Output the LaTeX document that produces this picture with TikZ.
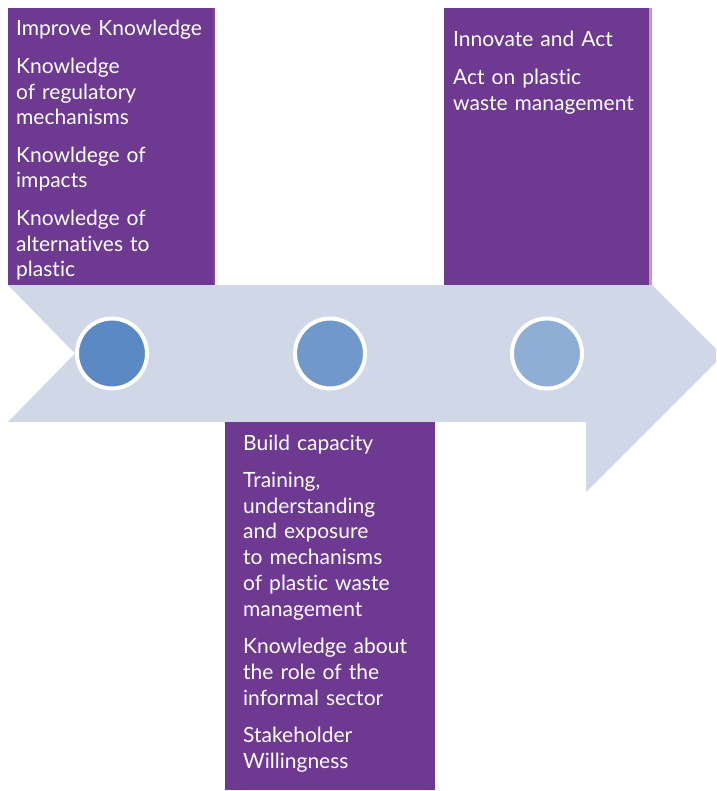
\documentclass[tikz,border=0pt]{standalone}
\usepackage{fontspec}
\setmainfont{Lato}[Ligatures=NoCommon]
\usepackage{tikz}
\usetikzlibrary{positioning}
\definecolor{stagepurple}{RGB}{110,57,145}
\definecolor{stripdark}{RGB}{126,69,168}
\definecolor{striplight}{RGB}{184,155,210}
\definecolor{bandgrey}{RGB}{208,215,230}
\definecolor{dotone}{RGB}{91,137,195}
\definecolor{dottwo}{RGB}{113,152,203}
\definecolor{dotthree}{RGB}{143,174,214}

\begin{document}
\begin{tikzpicture}[line cap=round,line join=round,x=1pt,y=-1pt]
\useasboundingbox (0,0) rectangle (716,791);
\tikzstyle{stagebox}=[fill=stagepurple, draw=none, anchor=north west, inner sep=0pt, minimum width=205pt]
\tikzstyle{stagetext}=[text=white, anchor=base west, inner sep=0pt, text width=200pt, align=left, font=\fontsize{21}{25.8}\selectfont]
\tikzstyle{stagedot}=[circle, draw=white, line width=4pt, minimum size=70pt, inner sep=0pt]

% the arrow band, its tip runs past the right edge
\begin{scope}
\clip (0,0) rectangle (716,791);
\fill [bandgrey] (8,285) -- (652,285) -- (722.5,355.5) -- (586,492) -- (586,422) -- (8,422) -- (75,353.5) -- cycle;
\end{scope}

% dots on the band
\node [stagedot, fill=dotone] (dot1) at (112,353.5) {};
\node [stagedot, fill=dottwo] (dot2) at (330,353.5) {};
\node [stagedot, fill=dotthree] (dot3) at (547,353.5) {};

% boxes
\node [stagebox, minimum height=277pt] (know) at (8,8) {};
\fill [stripdark] (know.north east) rectangle ++(2,277);
\node [stagebox, minimum width=210pt, minimum height=368pt] (build) at (225,422) {};
\node [stagebox, minimum height=277pt] (act) at (444,8) {};
\fill [striplight] (act.north east) rectangle ++(3,277);

% texts
\node [stagetext] (knowtext) at ([xshift=8pt,yshift=-28pt]know.north west)
  {Improve Knowledge\\[11.5pt]
   Knowledge\\ of regulatory\\ mechanisms\\[11.5pt]
   Knowldege of\\ impacts\\[11.5pt]
   Knowledge of\\ alternatives to\\ plastic};
\node [stagetext] (buildtext) at ([xshift=18pt,yshift=-28pt]build.north west)
  {Build capacity\\[11.5pt]
   Training,\\ understanding\\ and exposure\\ to mechanisms\\ of plastic waste\\ management\\[11.5pt]
   Knowledge about\\ the role of the\\ informal sector\\[11.5pt]
   Stakeholder\\ Willingness};
\node [stagetext] (acttext) at ([xshift=9pt,yshift=-39pt]act.north west)
  {Innovate and Act\\[11.5pt]
   Act on plastic\\ waste management};
\end{tikzpicture}
\end{document}
